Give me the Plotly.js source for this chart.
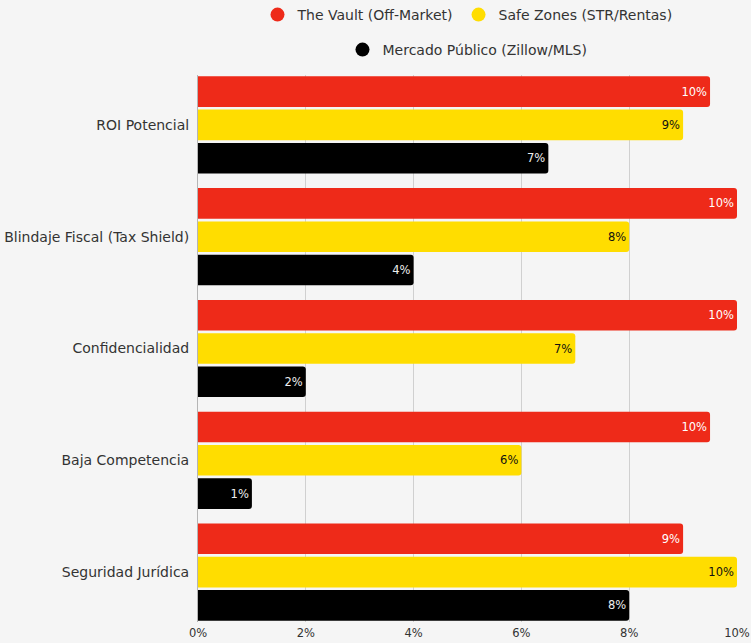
<!DOCTYPE html>
<html>
<head>
<meta charset="utf-8">
<script src="https://cdn.plot.ly/plotly-3.0.1.min.js"></script>
<style>
html,body{margin:0;padding:0;background:#f5f5f5;}
#chart{width:751px;height:643px;}
</style>
</head>
<body>
<div id="chart"></div>
<script>
const categories = ["ROI Potencial", "Blindaje Fiscal (Tax Shield)", "Confidencialidad", "Baja Competencia", "Seguridad Jurídica"];
const seriesNames = ["The Vault (Off-Market)", "Safe Zones (STR/Rentas)", "Mercado Público (Zillow/MLS)"];
const vaultValues = [9.5, 10, 10, 9.5, 9];
const safeValues = [9, 8, 7, 6, 10];
const publicValues = [6.5, 4, 2, 1, 8];
const tickValues = [0, 2, 4, 6, 8, 10];
const tickLabels = ["0%", "2%", "4%", "6%", "8%", "10%"];

const colors = ["#EE2A19", "#FFDD00", "#000000"];
const textColors = ["#ffffff", "#111111", "#eeeeee"];
const FONT = "DejaVu Sans, sans-serif";
const allValues = [vaultValues, safeValues, publicValues];

const traces = [];
allValues.forEach((vals, i) => {
  traces.push({
    type: "bar",
    orientation: "h",
    x: vals,
    y: categories,
    name: seriesNames[i],
    showlegend: false,
    marker: {color: colors[i], cornerradius: 3, line: {width: 0}},
    texttemplate: "%{x:.0f}%",
    textposition: "inside",
    insidetextanchor: "end",
    textangle: 0,
    textfont: {family: FONT, size: 11.5, color: textColors[i]},
    constraintext: "none",
    hoverinfo: "skip"
  });
});
// legend entries (circle markers)
allValues.forEach((vals, i) => {
  traces.push({
    type: "scatter",
    mode: "markers",
    x: [null],
    y: [null],
    name: seriesNames[i],
    marker: {color: colors[i], size: 14, symbol: "circle"},
    legend: i < 2 ? "legend" : "legend2",
    hoverinfo: "skip"
  });
});

const layout = {
  width: 751,
  height: 643,
  paper_bgcolor: "#f5f5f5",
  plot_bgcolor: "#f5f5f5",
  margin: {l: 198, r: 14, t: 75, b: 21, autoexpand: false},
  barmode: "group",
  bargap: 0.107,
  bargroupgap: 0.08,
  font: {family: FONT, size: 13, color: "#333333"},
  xaxis: {
    range: [0, 10],
    tickvals: tickValues,
    ticktext: tickLabels,
    showgrid: true,
    gridcolor: "#d0d0d0",
    gridwidth: 1,
    zeroline: false,
    showline: false,
    ticks: "",
    tickfont: {family: FONT, size: 11.5, color: "#333333"},
    ticklabelstandoff: 2,
    fixedrange: true
  },
  yaxis: {
    type: "category",
    autorange: false,
    range: [4.4464, -0.4464],
    showgrid: false,
    zeroline: false,
    showline: true,
    linecolor: "#b5b5b5",
    linewidth: 1,
    ticks: "",
    ticklabelstandoff: 5,
    tickfont: {family: FONT, size: 14, color: "#333333"},
    fixedrange: true
  },
  legend: {
    orientation: "h",
    x: 0.5, xanchor: "center",
    y: 1.1097, yanchor: "middle",
    bgcolor: "rgba(0,0,0,0)",
    font: {family: FONT, size: 14, color: "#333333"},
    itemclick: false, itemdoubleclick: false
  },
  legend2: {
    orientation: "h",
    x: 0.5, xanchor: "center",
    y: 1.0457, yanchor: "middle",
    bgcolor: "rgba(0,0,0,0)",
    font: {family: FONT, size: 14, color: "#333333"},
    itemclick: false, itemdoubleclick: false
  }
};

Plotly.newPlot("chart", traces, layout, {displayModeBar: false, staticPlot: true});
</script>
</body>
</html>
